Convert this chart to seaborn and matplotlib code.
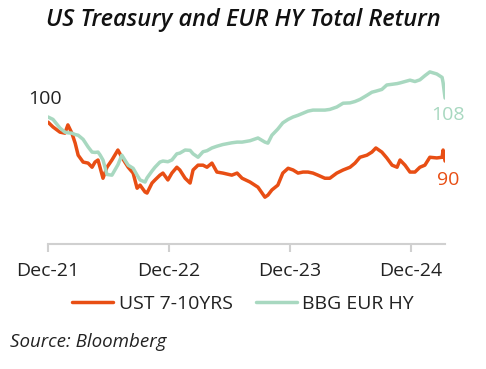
import pandas as pd
import numpy as np
import matplotlib
matplotlib.use("Agg")
import matplotlib.pyplot as plt
import matplotlib.dates as mdates
import seaborn as sns

# values (index, start = 100)
dates = [
    "2021-12-31", "2022-01-15", "2022-02-05", "2022-02-20", "2022-03-01", "2022-03-13",
    "2022-03-23", "2022-04-01", "2022-04-16", "2022-05-01", "2022-05-13", "2022-05-22",
    "2022-05-31", "2022-06-06", "2022-06-15", "2022-06-27", "2022-07-12", "2022-07-30",
    "2022-08-11", "2022-08-20", "2022-08-30", "2022-09-14", "2022-09-26", "2022-10-05",
    "2022-10-20", "2022-10-26", "2022-11-10", "2022-11-19", "2022-12-04", "2022-12-13",
    "2022-12-28", "2023-01-09", "2023-01-24", "2023-02-02", "2023-02-18", "2023-03-05",
    "2023-03-14", "2023-03-29", "2023-04-13", "2023-04-25", "2023-05-10", "2023-05-25",
    "2023-06-12", "2023-07-09", "2023-07-25", "2023-08-09", "2023-09-02", "2023-09-26",
    "2023-10-17", "2023-10-26", "2023-11-07", "2023-11-25", "2023-12-10", "2023-12-26",
    "2024-01-10", "2024-01-25", "2024-02-09", "2024-02-24", "2024-03-10", "2024-03-25",
    "2024-04-15", "2024-04-30", "2024-05-21", "2024-06-09", "2024-06-30", "2024-07-15",
    "2024-07-30", "2024-08-20", "2024-09-04", "2024-09-16", "2024-10-04", "2024-10-19",
    "2024-11-04", "2024-11-19", "2024-11-28", "2024-12-13", "2024-12-28", "2025-01-12",
    "2025-01-27", "2025-02-11", "2025-02-26", "2025-03-19", "2025-04-04", "2025-04-07",
    "2025-04-13",
]

ust_7_10 = [
    101.0, 99.6, 98.1, 97.8, 100.2, 97.8, 94.9, 91.4, 89.4, 89.1, 87.9, 89.4,
    90.0, 87.9, 84.7, 87.9, 90.0, 92.9, 90.8, 89.4, 87.9, 86.2, 81.8, 82.7,
    80.7, 80.4, 83.3, 84.2, 85.6, 86.2, 84.2, 86.2, 87.9, 87.1, 84.7, 83.3,
    87.1, 88.5, 88.5, 87.9, 89.1, 86.5, 86.2, 85.6, 86.2, 84.7, 83.6, 82.1,
    79.2, 79.8, 81.3, 82.7, 86.2, 87.6, 87.1, 86.2, 86.5, 86.5, 86.2, 85.6,
    84.7, 84.7, 86.2, 87.1, 87.9, 89.1, 90.8, 91.4, 92.3, 93.5, 92.3, 90.6,
    88.5, 87.9, 90.0, 88.5, 86.5, 86.5, 87.9, 88.5, 90.8, 90.6, 90.8, 92.9,
    89.7,
]

bbg_eur_hy = [
    102.5, 101.8, 99.3, 98.1, 97.9, 97.8, 97.4, 97.2, 96.0, 93.8, 92.3, 92.2,
    92.3, 91.5, 90.0, 85.8, 85.6, 88.6, 91.4, 90.0, 88.5, 87.6, 85.6, 84.2,
    83.6, 84.8, 86.8, 87.9, 89.4, 89.7, 89.5, 90.0, 91.8, 92.0, 92.9, 92.8,
    91.8, 90.8, 92.4, 92.7, 93.5, 94.0, 94.5, 95.0, 95.2, 95.2, 95.6, 96.4,
    95.2, 94.9, 97.2, 99.0, 100.8, 101.8, 102.5, 103.0, 103.6, 104.2, 104.5, 104.5,
    104.5, 104.7, 105.4, 106.5, 106.6, 107.0, 107.6, 108.8, 109.7, 110.0, 110.5, 111.8,
    112.0, 112.2, 112.4, 112.8, 113.2, 112.8, 113.3, 114.5, 115.6, 115.0, 114.0, 112.5,
    108.0,
]

series_names = ["UST 7-10YRS", "BBG EUR HY"]
colors = ["#E84E14", "#A8D8C0"]
tick_dates = ["2021-12-31", "2022-12-31", "2023-12-31", "2024-12-31"]
tick_labels = ["Dec-21", "Dec-22", "Dec-23", "Dec-24"]
start_label = "100"

df = pd.DataFrame({"date": pd.to_datetime(dates),
                   series_names[0]: ust_7_10,
                   series_names[1]: bbg_eur_hy})
long_df = df.melt(id_vars="date", var_name="series", value_name="value")

sns.set_theme(style="white")
plt.rcParams["font.family"] = ["Open Sans", "DejaVu Sans"]

fig = plt.figure(figsize=(4.86, 3.69), dpi=100)
ax = fig.add_axes([0.0988, 0.3388, 0.817, 0.485])

sns.lineplot(data=long_df, x="date", y="value", hue="series",
             hue_order=series_names, palette=colors, linewidth=2.5,
             ax=ax, legend=False)

ax.set_xlim(pd.Timestamp(dates[0]), pd.Timestamp(dates[-1]))
ax.set_ylim(65.6, 117.6)
ax.set_xticks(pd.to_datetime(tick_dates))
ax.set_xticklabels(tick_labels, fontsize=14, color="#222222")
ax.set_yticks([])
ax.set_xlabel("")
ax.set_ylabel("")
for side in ["top", "right", "left"]:
    ax.spines[side].set_visible(False)
ax.spines["bottom"].set_color("#d0d0d0")
ax.spines["bottom"].set_linewidth(1.5)
ax.tick_params(axis="x", length=6, width=1.5, color="#d0d0d0", pad=7, bottom=True)

# value labels
ax.annotate(start_label, xy=(df["date"].iloc[0], df[series_names[0]].iloc[0]),
            xytext=(-2, 17), textcoords="offset points",
            ha="center", va="center", fontsize=14, color="#222222")
ax.annotate(f"{bbg_eur_hy[-1]:.0f}", xy=(df["date"].iloc[-1], bbg_eur_hy[-1]),
            xytext=(2, -12), textcoords="offset points",
            ha="center", va="center", fontsize=14, color=colors[1], annotation_clip=False)
ax.annotate(f"{ust_7_10[-1]:.0f}", xy=(df["date"].iloc[-1], ust_7_10[-1]),
            xytext=(2, -14), textcoords="offset points",
            ha="center", va="center", fontsize=14, color=colors[0], annotation_clip=False)

handles = [plt.Line2D([], [], color=c, linewidth=2.5) for c in colors]
fig.legend(handles, series_names, loc="center", bbox_to_anchor=(0.5, 0.176),
           ncol=2, frameon=False, fontsize=14, handlelength=2.1,
           handletextpad=0.3, columnspacing=1.2, labelcolor="#222222")

fig.text(0.5, 1 - 20 / 369, "US Treasury and EUR HY Total Return",
         ha="center", va="center", fontsize=17, fontweight="semibold", style="italic",
         color="#111111")
fig.text(10 / 486, 1 - 342 / 369, "Source: Bloomberg", ha="left", va="center",
         fontsize=13.5, style="italic", color="#222222")

fig.savefig("out.png", dpi=100)
